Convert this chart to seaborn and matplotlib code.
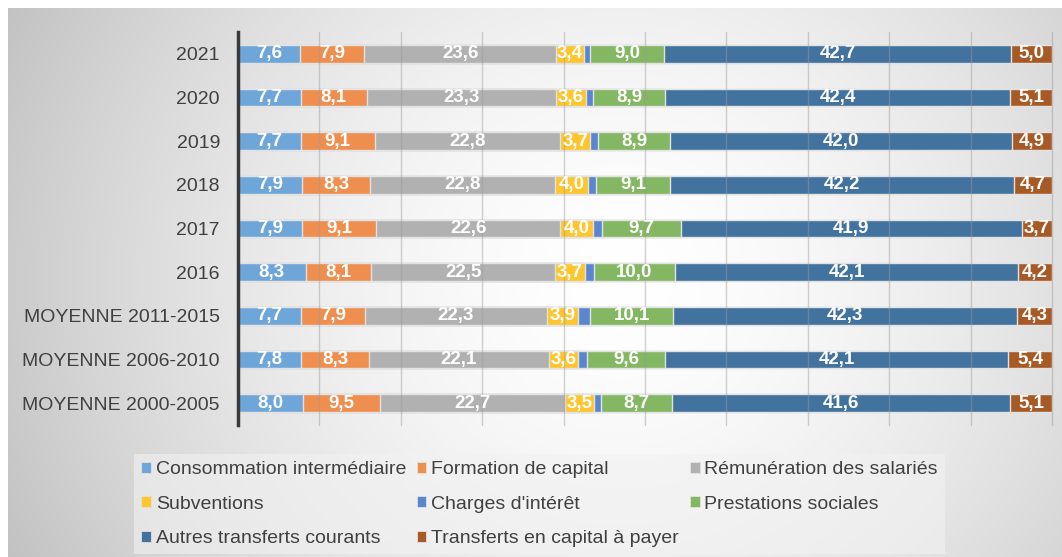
import numpy as np
import seaborn as sns
import matplotlib.pyplot as plt
from matplotlib.patches import Patch

sns.set_style("white")
plt.rcParams['font.family'] = ['Liberation Sans', 'DejaVu Sans']

# catégories (de haut en bas)
periodes = ["2021", "2020", "2019", "2018", "2017", "2016",
            "MOYENNE 2011-2015", "MOYENNE 2006-2010", "MOYENNE 2000-2005"]

series = ["Consommation intermédiaire", "Formation de capital",
          "Rémunération des salariés", "Subventions", "Charges d'intérêt",
          "Prestations sociales", "Autres transferts courants",
          "Transferts en capital à payer"]

conso = [7.6, 7.7, 7.7, 7.9, 7.9, 8.3, 7.7, 7.8, 8.0]
formation = [7.9, 8.1, 9.1, 8.3, 9.1, 8.1, 7.9, 8.3, 9.5]
remuneration = [23.6, 23.3, 22.8, 22.8, 22.6, 22.5, 22.3, 22.1, 22.7]
subventions = [3.4, 3.6, 3.7, 4.0, 4.0, 3.7, 3.9, 3.6, 3.5]
charges = [0.8, 0.9, 0.9, 1.0, 1.1, 1.1, 1.5, 1.1, 0.9]   # non étiquetées
prestations = [9.0, 8.9, 8.9, 9.1, 9.7, 10.0, 10.1, 9.6, 8.7]
autres = [42.7, 42.4, 42.0, 42.2, 41.9, 42.1, 42.3, 42.1, 41.6]
transferts = [5.0, 5.1, 4.9, 4.7, 3.7, 4.2, 4.3, 5.4, 5.1]

couleurs = ['#6FA6DA', '#EF8F4F', '#B1B1B1', '#FFC52D',
            '#5A86CF', '#84B762', '#42739F', '#A85A26']

valeurs = [conso, formation, remuneration, subventions, charges,
           prestations, autres, transferts]
etiquette = [True, True, True, True, False, True, True, True]

fig = plt.figure(figsize=(10.62, 5.57), dpi=100)
fig.patch.set_facecolor('white')

"""
fond dégradé radial
"""
bg = fig.add_axes([8/1062, 0, 1 - 8/1062, 1 - 8/557], zorder=-10)
W, H = 1054, 549
xx, yy = np.meshgrid(np.arange(W) + 8, np.arange(H) + 8)
r = np.sqrt((xx - 620.0)**2 + ((yy - 280.0) * 1.05)**2)
v = 255 - 60 * np.clip(r / 670.0, 0, 1.2)**1.6
img = np.clip(v, 0, 255) / 255.0
bg.imshow(np.dstack([img, img, img]), aspect='auto', interpolation='bilinear')
bg.axis('off')

ax = fig.add_axes([238/1062, 1 - 425/557, (1052 - 238)/1062, (425 - 32)/557])
ax.patch.set_alpha(0)

"""
barres empilées : cumul tracé du plus long au plus court
"""
cumul = np.cumsum(np.array(valeurs), axis=0)
for k in range(len(series) - 1, -1, -1):
    sns.barplot(x=cumul[k], y=periodes, orient='h', color=couleurs[k],
                saturation=1, width=0.4, edgecolor='#e2e2e2', linewidth=1,
                ax=ax)

for k in range(len(series)):
    if not etiquette[k]:
        continue
    gauche = cumul[k] - np.array(valeurs[k])
    for i, val in enumerate(valeurs[k]):
        ax.text(gauche[i] + val / 2, i, f"{val:.1f}".replace('.', ','),
                ha='center', va='center', color='white', fontsize=13.5,
                fontweight='bold', zorder=5)

ax.set_xlim(0, 100)
ax.set_ylim(8.5, -0.5)
ax.set_xticks(np.arange(10, 101, 10))
ax.set_xticklabels([])
ax.set_xlabel("")
ax.set_ylabel("")
ax.set_axisbelow(False)
ax.grid(axis='x', color='#9a9a9a', alpha=0.45, linewidth=1)
ax.grid(axis='y', visible=False)
for gl in ax.get_xgridlines():
    gl.set_clip_on(False)
ax.tick_params(axis='both', length=0)
ax.tick_params(axis='y', pad=13, labelsize=14, labelcolor='#404040')
for s in ['top', 'right', 'bottom']:
    ax.spines[s].set_visible(False)
ax.spines['left'].set_color('#3a3a3a')
ax.spines['left'].set_linewidth(2.5)

"""
légende (remplissage ligne par ligne sur 3 colonnes)
"""
ordre = [0, 3, 6, 1, 4, 7, 2, 5]
handles = [Patch(facecolor=couleurs[k], edgecolor='#e2e2e2', linewidth=0.6)
           for k in ordre]
labels = [series[k] for k in ordre]
leg = fig.legend(handles, labels, loc='center', bbox_to_anchor=(0.508, 0.095),
                 ncol=3, fontsize=14, frameon=True, fancybox=False,
                 handlelength=0.5, handleheight=0.5, handletextpad=0.25,
                 columnspacing=0.55, labelspacing=0.9, borderpad=0.35)
leg.get_frame().set_facecolor('#f2f2f2')
leg.get_frame().set_alpha(0.6)
leg.get_frame().set_edgecolor('none')
for t in leg.get_texts():
    t.set_color('#404040')

plt.savefig("out.png", dpi=100)
